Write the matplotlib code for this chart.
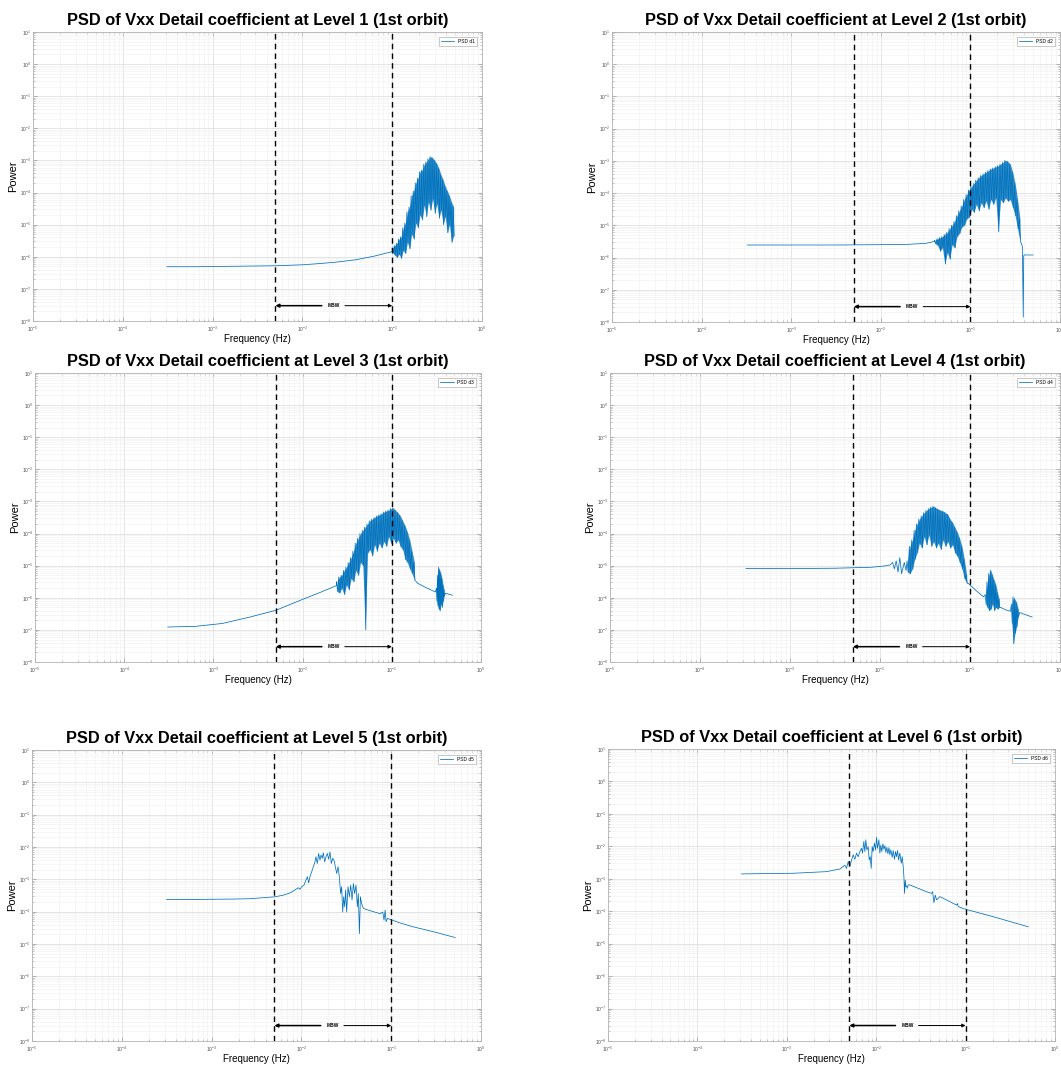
import numpy as np
import matplotlib
matplotlib.use("Agg")
import matplotlib.pyplot as plt
from matplotlib.ticker import LogLocator

plt.rcParams['font.family'] = ['Liberation Sans', 'DejaVu Sans']

# measurement bandwidth (Hz)
mbw_lo = 5e-3
mbw_hi = 1e-1
mbw_level = 3e-8

line_color = '#0072BD'

titles = [f"PSD of Vxx Detail coefficient at Level {k} (1st orbit)" for k in range(1, 7)]
legend_labels = ['PSD d1', 'PSD d2', 'PSD d3', 'PSD d4', 'PSD d5', 'PSD d6']

# ---- spectra, log10(Hz) / log10(power) ----
# noisy stretches are given as alternating high/low samples over a log-frequency span

# level 1
d1_smooth_logf = [-3.51, -3.2, -2.9, -2.6, -2.3, -2.0, -1.8, -1.6, -1.4, -1.2, -1.0]
d1_smooth_logp = [-6.31, -6.31, -6.30, -6.29, -6.28, -6.25, -6.21, -6.16, -6.09, -5.98, -5.84]
d1_band_span = (-1.0, -0.31)
d1_band_logp = [-5.72, -5.88, -5.65, -5.95, -5.58, -6.02, -5.45, -5.92, -5.38, -6.05,
                -5.10, -5.80, -4.95, -5.90, -4.60, -5.55, -4.45, -5.75, -4.10, -5.30,
                -3.95, -5.45, -3.70, -4.95, -3.55, -5.10, -3.35, -4.70, -3.30, -4.85,
                -3.12, -4.40, -3.05, -4.75, -2.95, -4.30, -2.88, -4.55, -2.92, -4.20,
                -3.00, -4.65, -3.10, -4.35, -3.25, -4.80, -3.45, -4.55, -3.60, -5.00,
                -3.80, -4.75, -3.95, -5.25, -4.10, -5.00, -4.30, -5.55, -4.45, -5.35]

# level 2
d2_smooth_logf = [-3.49, -3.0, -2.5, -2.0, -1.7, -1.5, -1.40]
d2_smooth_logp = [-5.61, -5.61, -5.61, -5.60, -5.59, -5.56, -5.50]
d2_band_span = (-1.40, -0.44)
d2_band_logp = [-5.46, -5.57, -5.42, -5.62, -5.38, -5.80, -5.35, -5.70, -5.28, -6.20,
                -5.22, -5.85, -5.10, -6.05, -5.00, -5.60, -4.88, -5.70, -4.70, -5.35,
                -4.55, -5.25, -4.40, -5.05, -4.20, -5.00, -4.05, -4.80, -3.90, -4.75,
                -3.80, -4.50, -3.70, -4.60, -3.60, -4.35, -3.52, -4.55, -3.45, -4.30,
                -3.40, -4.45, -3.35, -4.25, -3.30, -4.50, -3.25, -4.20, -3.22, -4.35,
                -3.18, -4.15, -3.15, -5.20, -3.10, -4.20, -3.05, -4.30, -2.98, -4.15,
                -3.02, -4.25, -3.10, -4.20, -3.35, -4.45, -3.70, -4.70, -4.20, -5.10,
                -4.80, -5.50]
d2_tail_logf = [-0.42, -0.41, -0.405, -0.40, -0.30]
d2_tail_logp = [-5.65, -7.85, -5.95, -5.92, -5.92]

# level 3
d3_smooth_logf = [-3.51, -3.2, -2.9, -2.59, -2.3, -2.0, -1.8, -1.62]
d3_smooth_logp = [-6.91, -6.89, -6.80, -6.60, -6.39, -6.05, -5.83, -5.62]
d3_band_span = (-1.62, -0.74)
d3_band_logp = [-5.50, -5.80, -5.35, -5.85, -5.30, -5.70, -5.15, -5.90, -5.05, -5.60,
                -4.90, -5.75, -4.75, -5.40, -4.55, -5.50, -4.30, -5.15, -4.15, -5.30,
                -4.00, -4.90, -3.90, -5.00, -3.80, -7.00, -3.70, -4.60, -3.60, -4.50,
                -3.55, -4.70, -3.50, -4.35, -3.45, -4.55, -3.42, -4.30, -3.38, -4.45,
                -3.33, -4.25, -3.30, -4.40, -3.27, -4.10, -3.22, -4.30, -3.20, -4.15,
                -3.28, -4.30, -3.35, -4.20, -3.45, -4.40, -3.60, -4.50, -3.75, -4.80,
                -3.95, -4.90, -4.20, -5.10, -4.55, -5.25, -4.90, -5.45]
d3_mid_logf = [-0.71, -0.62, -0.51]
d3_mid_logp = [-5.55, -5.68, -5.82]
d3_burst_span = (-0.50, -0.41)
d3_burst_logp = [-5.70, -6.10, -5.30, -6.25, -5.05, -6.35, -5.15, -6.40,
                 -5.25, -6.20, -5.40, -6.30, -5.60, -6.10, -5.75, -5.95]
d3_tail_logf = [-0.40, -0.32]
d3_tail_logp = [-5.86, -5.92]

# level 4
d4_smooth_logf = [-3.49, -3.0, -2.5, -2.1, -1.95, -1.89]
d4_smooth_logp = [-5.09, -5.09, -5.08, -5.05, -5.01, -4.98]
d4_pre_logf = [-1.86, -1.84, -1.82, -1.80, -1.78, -1.76, -1.73, -1.71]
d4_pre_logp = [-4.90, -5.10, -4.85, -5.20, -4.75, -5.25, -4.90, -5.15]
d4_band_span = (-1.70, -1.03)
d4_band_logp = [-4.85, -5.20, -4.40, -5.25, -4.20, -5.10, -3.90, -4.80, -3.70, -4.60,
                -3.55, -4.30, -3.45, -4.45, -3.35, -4.10, -3.28, -4.35, -3.22, -4.05,
                -3.18, -4.40, -3.15, -4.25, -3.20, -4.45, -3.24, -4.30, -3.28, -4.50,
                -3.30, -4.20, -3.35, -4.40, -3.40, -4.25, -3.55, -4.45, -3.65, -4.35,
                -3.80, -4.60, -3.95, -4.70, -4.15, -4.90, -4.40, -5.10, -4.80, -5.40,
                -5.30, -5.55]
d4_mid1_logf = [-1.02, -0.93, -0.85]
d4_mid1_logp = [-5.55, -5.78, -5.97]
d4_burst1_span = (-0.83, -0.67)
d4_burst1_logp = [-5.90, -6.20, -5.50, -6.30, -5.25, -6.40, -5.14, -6.35, -5.30,
                  -6.20, -5.45, -6.40, -5.60, -6.30, -5.85, -6.35, -6.05, -6.30]
d4_mid2_logf = [-0.66, -0.60, -0.55]
d4_mid2_logp = [-6.30, -6.38, -6.42]
d4_burst2_span = (-0.54, -0.46)
d4_burst2_logp = [-6.20, -6.80, -5.97, -7.43, -6.05, -7.10, -6.15, -6.90, -6.35, -6.60]
d4_tail_logf = [-0.45, -0.38, -0.31]
d4_tail_logp = [-6.46, -6.53, -6.60]

# level 5
d5_logf = [-3.502, -3.131, -2.759, -2.573, -2.388, -2.295, -2.202, -2.127, -2.072, -2.035,
           -2.016, -1.997, -1.971, -1.949, -1.934, -1.919, -1.905, -1.886, -1.867, -1.849,
           -1.838, -1.823, -1.808, -1.793, -1.782, -1.767, -1.756, -1.741, -1.726, -1.711,
           -1.696, -1.682, -1.667, -1.652, -1.637, -1.622, -1.607, -1.592, -1.578, -1.563,
           -1.552, -1.540, -1.529, -1.518, -1.507, -1.496, -1.481, -1.466, -1.451, -1.436,
           -1.421, -1.407, -1.392, -1.377, -1.366, -1.354, -1.343, -1.329, -1.310, -1.236,
           -1.124, -1.094, -1.080, -1.068, -1.057, -1.042, -0.990, -0.901, -0.753, -0.530,
           -0.288]
d5_logp = [-3.62, -3.62, -3.61, -3.60, -3.56, -3.54, -3.49, -3.42, -3.33, -3.26,
           -3.31, -3.23, -3.18, -3.02, -2.92, -3.11, -2.92, -2.77, -2.61, -2.46,
           -2.30, -2.51, -2.20, -2.41, -2.25, -2.35, -2.18, -2.46, -2.30, -2.20,
           -2.38, -2.15, -2.51, -2.35, -2.41, -2.61, -2.82, -2.61, -2.92, -3.44,
           -3.23, -4.01, -3.54, -3.85, -3.33, -4.01, -3.23, -3.54, -3.18, -3.64,
           -3.13, -3.44, -3.18, -3.85, -3.44, -4.68, -3.54, -3.75, -3.90, -3.97,
           -4.06, -4.01, -4.26, -3.95, -4.31, -4.21, -4.26, -4.35, -4.47, -4.62,
           -4.80]

# level 6
d6_logf = [-3.507, -2.929, -2.556, -2.407, -2.351, -2.332, -2.313, -2.295, -2.276, -2.257,
           -2.239, -2.220, -2.201, -2.183, -2.164, -2.153, -2.138, -2.127, -2.116, -2.104,
           -2.090, -2.078, -2.067, -2.056, -2.045, -2.034, -2.019, -2.007, -1.996, -1.985,
           -1.970, -1.959, -1.948, -1.937, -1.925, -1.914, -1.903, -1.892, -1.881, -1.869,
           -1.858, -1.847, -1.836, -1.821, -1.810, -1.795, -1.784, -1.772, -1.761, -1.750,
           -1.735, -1.720, -1.709, -1.698, -1.690, -1.683, -1.675, -1.668, -1.660, -1.653,
           -1.642, -1.623, -1.437, -1.381, -1.369, -1.354, -1.340, -1.325, -1.287, -1.101,
           -1.093, -1.082, -1.000, -0.690, -0.299]
d6_logp = [-2.85, -2.83, -2.78, -2.70, -2.58, -2.68, -2.47, -2.63, -2.42, -2.26,
           -2.40, -2.21, -2.32, -2.16, -2.06, -2.21, -1.85, -2.16, -1.80, -2.11,
           -2.01, -2.42, -2.32, -2.68, -2.01, -2.16, -1.90, -2.11, -1.72, -2.06,
           -1.80, -2.21, -1.96, -2.16, -1.92, -2.09, -1.98, -2.19, -2.03, -2.23,
           -2.04, -2.26, -2.11, -2.34, -2.13, -2.40, -2.16, -2.32, -2.13, -2.42,
           -2.21, -2.52, -2.32, -2.63, -2.93, -3.45, -3.04, -3.24, -3.22, -3.29,
           -3.19, -3.19, -3.40, -3.45, -3.40, -3.74, -3.50, -3.65, -3.55, -3.81,
           -3.76, -3.86, -3.94, -4.17, -4.48]


def band(span, logp):
    logf = np.linspace(span[0], span[1], len(logp))
    return list(logf), list(logp)


def band_fill(span, logp):
    # shade between the high and low samples of a noisy stretch
    logf = np.linspace(span[0], span[1], len(logp))
    lp = np.array(logp)
    f = 10.0 ** ((logf[0::2] + logf[1::2]) / 2)
    return f, 10.0 ** lp[0::2], 10.0 ** lp[1::2]


def join(*parts):
    lf, lp = [], []
    for f, p in parts:
        lf += list(f)
        lp += list(p)
    return 10.0 ** np.array(lf), 10.0 ** np.array(lp)


spectra = [
    join((d1_smooth_logf, d1_smooth_logp), band(d1_band_span, d1_band_logp)),
    join((d2_smooth_logf, d2_smooth_logp), band(d2_band_span, d2_band_logp),
         (d2_tail_logf, d2_tail_logp)),
    join((d3_smooth_logf, d3_smooth_logp), band(d3_band_span, d3_band_logp),
         (d3_mid_logf, d3_mid_logp), band(d3_burst_span, d3_burst_logp),
         (d3_tail_logf, d3_tail_logp)),
    join((d4_smooth_logf, d4_smooth_logp), (d4_pre_logf, d4_pre_logp),
         band(d4_band_span, d4_band_logp), (d4_mid1_logf, d4_mid1_logp),
         band(d4_burst1_span, d4_burst1_logp), (d4_mid2_logf, d4_mid2_logp),
         band(d4_burst2_span, d4_burst2_logp), (d4_tail_logf, d4_tail_logp)),
    join((d5_logf, d5_logp)),
    join((d6_logf, d6_logp)),
]

band_fills = [
    [band_fill(d1_band_span, d1_band_logp)],
    [band_fill(d2_band_span, d2_band_logp)],
    [band_fill(d3_band_span, d3_band_logp), band_fill(d3_burst_span, d3_burst_logp)],
    [band_fill(d4_band_span, d4_band_logp), band_fill(d4_burst1_span, d4_burst1_logp),
     band_fill(d4_burst2_span, d4_burst2_logp)],
    [],
    [],
]

# axes boxes in pixels: left, top, right, bottom
W, H = 1061, 1065
boxes = [
    (33, 32, 482, 321),
    (612, 32, 1060, 322),
    (35, 373, 481, 662),
    (610, 373, 1060, 662),
    (32, 750, 481, 1041),
    (608, 749, 1055, 1041),
]

fig = plt.figure(figsize=(W / 100, H / 100), dpi=100)

for i, (l, t, r, b) in enumerate(boxes):
    ax = fig.add_axes([l / W, 1 - b / H, (r - l) / W, (b - t) / H])
    f, p = spectra[i]
    for bf, hi, lo in band_fills[i]:
        ax.fill_between(bf, lo, hi, color=line_color, lw=0, alpha=0.8)
    ax.plot(f, p, color=line_color, lw=0.55, label=legend_labels[i])

    ax.set_xscale('log')
    ax.set_yscale('log')
    ax.set_xlim(1e-5, 1)
    ax.set_ylim(1e-8, 10)
    for axis, n in ((ax.xaxis, 6), (ax.yaxis, 10)):
        axis.set_major_locator(LogLocator(base=10, numticks=n + 2))
        axis.set_minor_locator(LogLocator(base=10, subs=np.arange(2, 10), numticks=100))
    ax.set_axisbelow(True)
    ax.grid(which='major', color='#dadada', lw=0.5)
    ax.grid(which='minor', color='#efefef', lw=0.4)
    ax.tick_params(which='both', direction='in', top=True, right=True,
                   colors='#9a9a9a', labelcolor='#505050', labelsize=3.5)
    ax.tick_params(axis='x', pad=2.5)
    ax.tick_params(axis='y', pad=1.5)
    ax.tick_params(which='major', length=3, width=0.5)
    ax.tick_params(which='minor', length=1.5, width=0.4)
    for s in ax.spines.values():
        s.set_color('#b4b4b4')
        s.set_linewidth(0.6)

    # measurement bandwidth markers
    ax.axvline(mbw_lo, color='black', ls=(0, (4, 3)), lw=1.0)
    ax.axvline(mbw_hi, color='black', ls=(0, (4, 3)), lw=1.0)
    f_mid = np.sqrt(mbw_lo * mbw_hi)
    ax.text(f_mid, mbw_level, 'MBW', ha='center', va='center', fontsize=3.5,
            fontweight='bold')
    ax.annotate('', xy=(mbw_lo, mbw_level), xytext=(f_mid / 1.36, mbw_level),
                arrowprops=dict(arrowstyle='-|>', color='black', lw=1.1,
                                mutation_scale=5, shrinkA=0, shrinkB=0))
    ax.annotate('', xy=(mbw_hi, mbw_level), xytext=(f_mid * 1.33, mbw_level),
                arrowprops=dict(arrowstyle='-|>', color='black', lw=0.7,
                                mutation_scale=5, shrinkA=0, shrinkB=0))

    ax.set_title(titles[i], fontsize=11.8, fontweight='bold', pad=5)
    ax.set_xlabel('Frequency (Hz)', fontsize=7, labelpad=0)
    ax.set_ylabel('Power', fontsize=8, labelpad=1)

    leg = ax.legend(loc='upper right', fontsize=3.5, frameon=True, fancybox=False,
                    edgecolor='#a0a0a0', framealpha=1, handlelength=2.7,
                    borderaxespad=1.0, borderpad=0.4)
    leg.get_frame().set_linewidth(0.4)

fig.savefig('out.png', dpi=100)
